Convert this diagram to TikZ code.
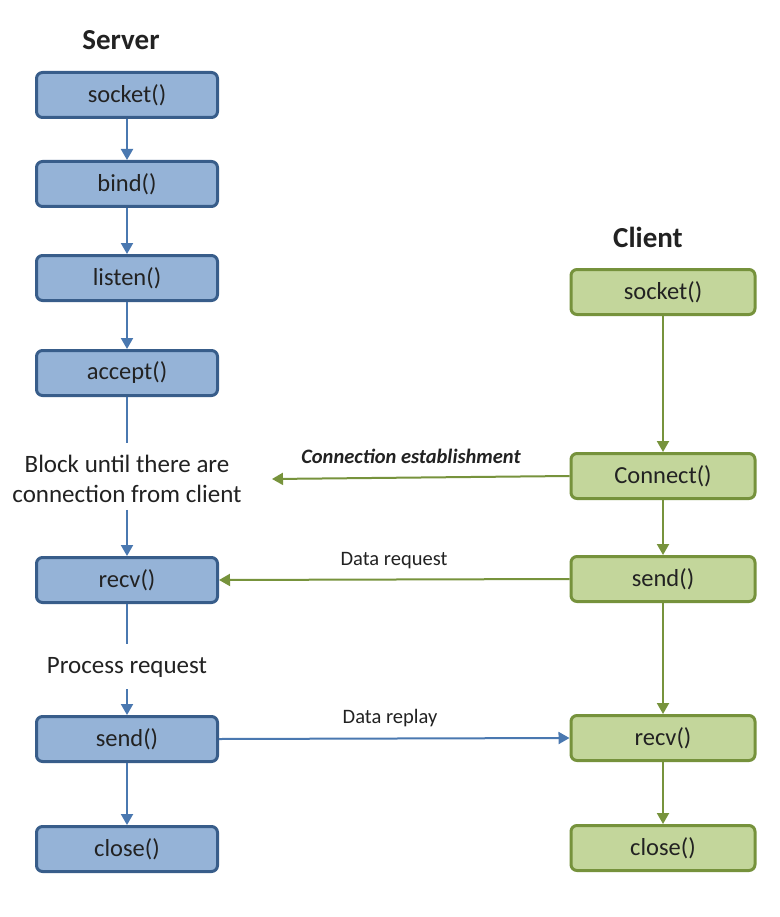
\documentclass[tikz,border=0pt]{standalone}
\usepackage{fontspec}
\setmainfont{Carlito}
\usetikzlibrary{arrows.meta}

\definecolor{srvfill}{HTML}{95B3D7}
\definecolor{srvedge}{HTML}{385D8A}
\definecolor{srvline}{HTML}{4A78B0}
\definecolor{clifill}{HTML}{C3D69B}
\definecolor{cliedge}{HTML}{76923C}
\definecolor{cliline}{HTML}{77933C}
\definecolor{ink}{HTML}{222222}

\tikzset{
  box/.style={rounded corners=6pt, line width=3pt, minimum height=45pt,
    inner sep=0pt, text=ink, font=\fontsize{24.5}{29}\selectfont},
  srvbox/.style={box, draw=srvedge, fill=srvfill, minimum width=181pt},
  clibox/.style={box, draw=cliedge, fill=clifill, minimum width=184pt},
  title/.style={font=\fontsize{29}{34}\selectfont\bfseries, text=ink},
  note/.style={font=\fontsize{25}{30}\selectfont, text=ink, align=center, inner sep=0pt},
  msg/.style={font=\fontsize{20.5}{24}\selectfont, text=ink, inner sep=0pt},
  tip/.style={-{Triangle[length=11pt,width=12pt]}},
  sline/.style={draw=srvline, line width=2pt},
  cline/.style={draw=cliline, line width=2pt},
}

\begin{document}
\begin{tikzpicture}[x=1pt,y=-1pt]
  \useasboundingbox[fill=white] (0,0) rectangle (779,917);

  % Server column
  \node[title] (stitle) at (121,40) {Server};
  \node[srvbox] (ssock)  at (127,95)  {socket()};
  \node[srvbox] (sbind)  at (127,184) {bind()};
  \node[srvbox] (slist)  at (127,278) {listen()};
  \node[srvbox] (sacc)   at (127,373) {accept()};
  \node[note]   (sblock) at (127,479) {Block until there are\\connection from client};
  \node[srvbox] (srecv)  at (127,580) {recv()};
  \node[note]   (sproc)  at (127,667) {Process request};
  \node[srvbox] (ssend)  at (127,739) {send()};
  \node[srvbox] (sclose) at (127,849) {close()};

  % Client column
  \node[title] (ctitle) at (648,237) {Client};
  \node[clibox] (csock)  at (663,292) {socket()};
  \node[clibox] (cconn)  at (663,476) {Connect()};
  \node[clibox] (csend)  at (663,579) {send()};
  \node[clibox] (crecv)  at (663,738) {recv()};
  \node[clibox] (cclose) at (663,848) {close()};

  % Server flow
  \draw[sline, tip] (ssock) -- (sbind);
  \draw[sline, tip] (sbind) -- (slist);
  \draw[sline, tip] (slist) -- (sacc);
  \draw[sline, shorten >=12pt] (sacc) -- (sblock);
  \draw[sline, tip, shorten <=7pt] (sblock) -- (srecv);
  \draw[sline, shorten >=13pt] (srecv) -- (sproc);
  \draw[sline, tip, shorten <=12pt] (sproc) -- (ssend);
  \draw[sline, tip] (ssend) -- (sclose);

  % Client flow
  \draw[cline, tip] (csock) -- (cconn);
  \draw[cline, tip] (cconn) -- (csend);
  \draw[cline, tip] (csend) -- (crecv);
  \draw[cline, tip] (crecv) -- (cclose);

  % Messages between the two sides
  \coordinate (connend) at (272,479);
  \draw[cline, tip] (cconn.west) -- (connend);
  \node[msg, font=\fontsize{20.5}{24}\selectfont\bfseries\itshape] (lconn) at (411,456) {Connection establishment};

  \draw[cline, tip] (csend.west) -- (srecv.east);
  \node[msg] (lreq) at (394,561) {Data request};

  \draw[sline, tip] (ssend.east) -- (crecv.west);
  \node[msg] (lrep) at (390,718) {Data replay};
\end{tikzpicture}
\end{document}
